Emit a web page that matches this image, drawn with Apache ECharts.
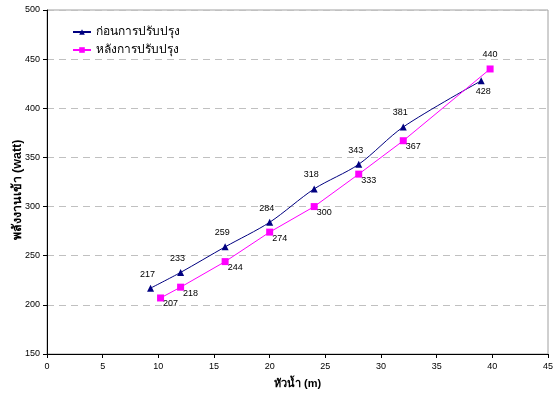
<!DOCTYPE html>
<html>
<head>
<meta charset="utf-8">
<script src="https://cdn.jsdelivr.net/npm/echarts@6/dist/echarts.min.js"></script>
<style>
  html, body { margin: 0; padding: 0; background: #fff; }
  #chart { width: 556px; height: 394px; }
</style>
</head>
<body>
<div id="chart"></div>
<script>
// ข้อมูลจากกราฟ
const seriesNames = ["ก่อนการปรับปรุง", "หลังการปรับปรุง"];
const headBefore = [9.3, 12, 16, 20, 24, 28, 32, 39];
const powerBefore = [217, 233, 259, 284, 318, 343, 381, 428];
const headAfter = [10.2, 12, 16, 20, 24, 28, 32, 39.8];
const powerAfter = [207, 218, 244, 274, 300, 333, 367, 440];
const xTitle = "หัวน้ำ (m)";
const yTitle = "พลังงานเข้า (watt)";

const font = "Arial, 'Liberation Sans', sans-serif";

function pairs(xs, ys) {
    return xs.map((x, i) => [x, ys[i]]);
}

let before = pairs(headBefore, powerBefore).map((p, i, arr) => {
    let item = {value: p};
    if (i == arr.length - 1) item.label = {position: 'bottom', distance: 3, offset: [2, 0]};
    return item;
});
let after = pairs(headAfter, powerAfter).map((p, i, arr) => {
    let item = {value: p};
    if (i == arr.length - 1) item.label = {position: 'top', distance: 6, offset: [0, 0]};
    return item;
});

let chart = echarts.init(document.getElementById("chart"));
chart.setOption({
    backgroundColor: '#fff',
    animation: false,
    textStyle: {fontFamily: font},
    grid: {left: 47, right: 8, top: 10, bottom: 40, show: true, borderColor: '#a0a0a0', borderWidth: 1,
           outerBoundsMode: 'none', containLabel: false},
    legend: {
        orient: 'vertical',
        left: 67, top: 21,
        itemWidth: 18, itemHeight: 7, itemGap: 6,
        textStyle: {fontSize: 12, color: '#000', fontFamily: font},
        data: seriesNames
    },
    xAxis: {
        type: 'value', min: 0, max: 45, interval: 5,
        name: xTitle, nameLocation: 'middle', nameGap: 24, nameMoveOverlap: false,
        nameTextStyle: {fontSize: 11, fontWeight: 'bold', color: '#000'},
        axisLine: {onZero: false, lineStyle: {color: '#000', width: 1}},
        axisTick: {show: true, length: 4, lineStyle: {color: '#000'}},
        axisLabel: {fontSize: 9, color: '#000', margin: 8},
        splitLine: {show: false}
    },
    yAxis: {
        type: 'value', min: 150, max: 500, interval: 50,
        name: yTitle, nameLocation: 'middle', nameGap: 23, nameMoveOverlap: false,
        nameTextStyle: {fontSize: 12.5, fontWeight: 'bold', color: '#000', padding: [0, 16, 0, 0]},
        axisLine: {show: true, lineStyle: {color: '#000', width: 1}},
        axisTick: {show: true, length: 4, lineStyle: {color: '#000'}},
        axisLabel: {fontSize: 9, color: '#000', margin: 7},
        splitLine: {show: true, lineStyle: {color: '#c0c0c0', type: [7, 5], width: 1}}
    },
    series: [
        {
            name: seriesNames[0], type: 'line', data: before,
            smooth: 0.3,
            symbol: 'triangle', symbolSize: 7,
            lineStyle: {color: '#000080', width: 1},
            itemStyle: {color: '#000080'},
            label: {show: true, position: 'top', distance: 5, offset: [-3, -1], fontSize: 9, color: '#000'}
        },
        {
            name: seriesNames[1], type: 'line', data: after,
            symbol: 'rect', symbolSize: 7,
            lineStyle: {color: '#ff00ff', width: 1},
            itemStyle: {color: '#ff00ff'},
            label: {show: true, position: 'bottom', distance: 0, offset: [10, -2], fontSize: 9, color: '#000'}
        }
    ]
});
</script>
</body>
</html>
